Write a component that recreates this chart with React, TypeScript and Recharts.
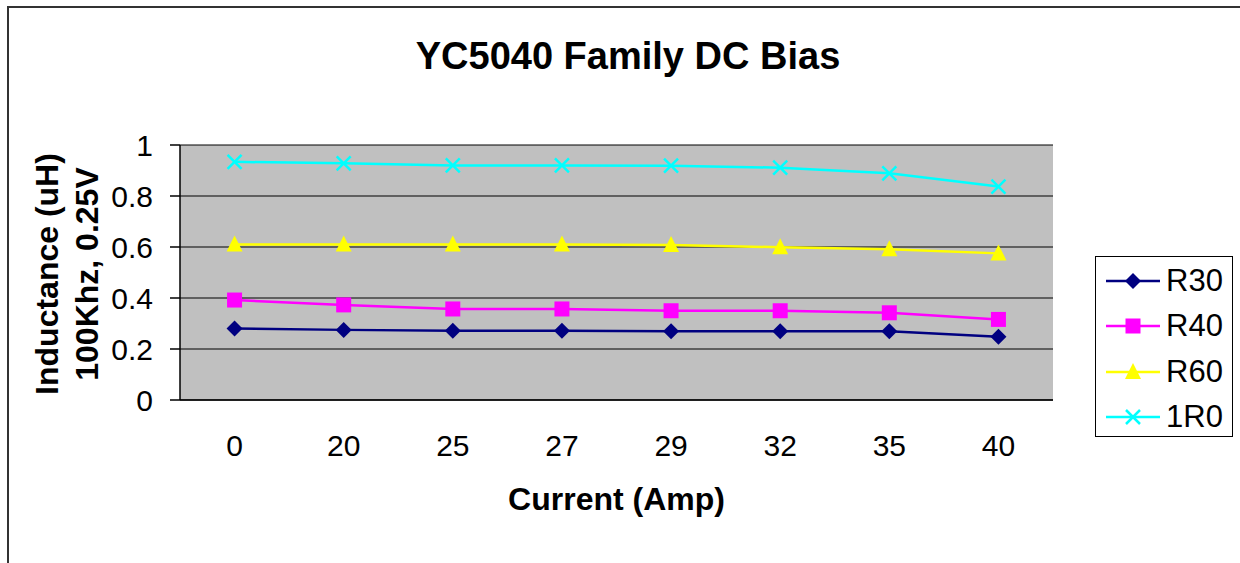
import React from "react"
import { LineChart, Line, XAxis, YAxis, CartesianGrid, Legend } from "recharts"

const currents = ["0", "20", "25", "27", "29", "32", "35", "40"]
const r30 = [0.28, 0.275, 0.272, 0.272, 0.27, 0.27, 0.27, 0.248]
const r40 = [0.392, 0.373, 0.357, 0.357, 0.35, 0.35, 0.342, 0.316]
const r60 = [0.61, 0.61, 0.61, 0.61, 0.608, 0.599, 0.591, 0.575]
const r1r0 = [0.934, 0.928, 0.92, 0.92, 0.919, 0.911, 0.889, 0.837]
const yTicks = [0, 0.2, 0.4, 0.6, 0.8, 1]
const bandEdges = [0, 1, 2, 3, 4, 5, 6, 7, 8]

const data = currents.map((c, i) => ({
    current: c,
    R30: r30[i],
    R40: r40[i],
    R60: r60[i],
    "1R0": r1r0[i],
}))

const FONT = "'Liberation Sans', Arial, sans-serif"

type Shape = "diamond" | "square" | "triangle" | "cross"

function Marker({ cx, cy, shape, color }: { cx: number; cy: number; shape: Shape; color: string }) {
    if (cx == null || cy == null) return null
    if (shape === "diamond") {
        return <path d={`M${cx},${cy - 8}L${cx + 8},${cy}L${cx},${cy + 8}L${cx - 8},${cy}Z`} fill={color} />
    }
    if (shape === "square") {
        return <rect x={cx - 7.5} y={cy - 7.5} width={15} height={15} fill={color} />
    }
    if (shape === "triangle") {
        return <path d={`M${cx},${cy - 9}L${cx + 8},${cy + 7}L${cx - 8},${cy + 7}Z`} fill={color} />
    }
    return (
        <path
            d={`M${cx - 7},${cy - 7}L${cx + 7},${cy + 7}M${cx - 7},${cy + 7}L${cx + 7},${cy - 7}`}
            stroke={color}
            strokeWidth={2.5}
            fill="none"
        />
    )
}

const series: { key: string; color: string; shape: Shape }[] = [
    { key: "R30", color: "#000080", shape: "diamond" },
    { key: "R40", color: "#FF00FF", shape: "square" },
    { key: "R60", color: "#FFFF00", shape: "triangle" },
    { key: "1R0", color: "#00FFFF", shape: "cross" },
]

// keeps the legend in series order (recharts sorts the payload by name)
function LegendBox() {
    return (
        <div
            style={{
                width: 138,
                height: 181,
                border: "1.5px solid #000",
                background: "#fff",
                boxSizing: "border-box",
                paddingTop: 1,
            }}
        >
            {series.map((s) => (
                <div key={s.key} style={{ display: "flex", alignItems: "center", height: 45.5 }}>
                    <svg width={70} height={30} style={{ marginLeft: 8 }}>
                        <line x1={2} y1={15} x2={56} y2={15} stroke={s.color} strokeWidth={2.5} />
                        <Marker cx={29} cy={15} shape={s.shape} color={s.color} />
                    </svg>
                    <span style={{ fontSize: 31, color: "#000", fontFamily: FONT, marginLeft: -8 }}>{s.key}</span>
                </div>
            ))}
        </div>
    )
}

function YTitle() {
    return (
        <g>
            <text
                x={58}
                y={274}
                transform="rotate(-90, 58, 274)"
                textAnchor="middle"
                fontSize={32}
                fontWeight="bold"
                fill="#000"
                fontFamily={FONT}
            >
                Inductance (uH)
            </text>
            <text
                x={98}
                y={274}
                transform="rotate(-90, 98, 274)"
                textAnchor="middle"
                fontSize={32}
                fontWeight="bold"
                fill="#000"
                fontFamily={FONT}
            >
                100Khz, 0.25V
            </text>
        </g>
    )
}

export default function App() {
    return (
        <div style={{ position: "absolute", left: 0, top: 0, width: 1240, height: 563, background: "#fff", fontFamily: FONT }}>
            {/* outer chart frame (left and top edges visible) */}
            <div
                style={{
                    position: "absolute",
                    left: 7,
                    top: 6,
                    width: 1240,
                    height: 600,
                    borderLeft: "2px solid #333",
                    borderTop: "2px solid #333",
                }}
            />
            <div
                style={{
                    position: "absolute",
                    left: 0,
                    width: 1256,
                    top: 37,
                    textAlign: "center",
                    fontSize: 38,
                    fontWeight: "bold",
                    lineHeight: 1,
                    color: "#000",
                }}
            >
                YC5040 Family DC Bias
            </div>
            <div style={{ position: "absolute", left: 0, top: 0 }}>
                <LineChart
                    width={1240}
                    height={563}
                    data={data}
                    margin={{ top: 145, right: 187, bottom: 103, left: 120 }}
                >
                    <CartesianGrid vertical={false} stroke="#000" strokeWidth={1} fill="#C0C0C0" fillOpacity={1} />
                    <XAxis
                        xAxisId="edges"
                        type="number"
                        domain={[0, 8]}
                        ticks={bandEdges}
                        tick={false}
                        tickSize={10}
                        height={0}
                        axisLine={false}
                        tickLine={{ stroke: "#000", strokeWidth: 1.5 }}
                    />
                    <XAxis
                        dataKey="current"
                        scale="band"
                        height={60}
                        tickSize={0}
                        tickMargin={35}
                        axisLine={{ stroke: "#000", strokeWidth: 1.5 }}
                        tick={{ fill: "#000", fontSize: 30, fontFamily: FONT }}
                        label={{
                            value: "Current (Amp)",
                            position: "insideBottom",
                            offset: -50,
                            fill: "#000",
                            fontSize: 32,
                            fontWeight: "bold",
                            fontFamily: FONT,
                        }}
                    />
                    <XAxis xAxisId="top" orientation="top" height={0} tick={false} tickLine={false} axisLine={{ stroke: "#808080", strokeWidth: 2 }} />
                    <YAxis
                        width={60}
                        domain={[0, 1]}
                        ticks={yTicks}
                        tickFormatter={(v) => String(v)}
                        tickSize={10}
                        tickMargin={17}
                        interval={0}
                        axisLine={{ stroke: "#000", strokeWidth: 1.5 }}
                        tickLine={{ stroke: "#000", strokeWidth: 1.5 }}
                        tick={{ fill: "#000", fontSize: 30, fontFamily: FONT }}
                        label={<YTitle />}
                    />
                    <YAxis
                        yAxisId="right"
                        orientation="right"
                        width={0}
                        domain={[0, 1]}
                        tick={false}
                        tickLine={false}
                        axisLine={{ stroke: "#808080", strokeWidth: 2 }}
                    />
                    {series.map((s) => (
                        <Line
                            key={s.key}
                            dataKey={s.key}
                            stroke={s.color}
                            strokeWidth={2.5}
                            isAnimationActive={false}
                            dot={(props: any) => (
                                <Marker key={`${s.key}-${props.index}`} cx={props.cx} cy={props.cy} shape={s.shape} color={s.color} />
                            )}
                            activeDot={false}
                        />
                    ))}
                    <Legend
                        layout="vertical"
                        align="center"
                        verticalAlign="middle"
                        content={<LegendBox />}
                        wrapperStyle={{ position: "absolute", left: 1095, top: 256, width: 138, height: 181 }}
                    />
                </LineChart>
            </div>
        </div>
    )
}
